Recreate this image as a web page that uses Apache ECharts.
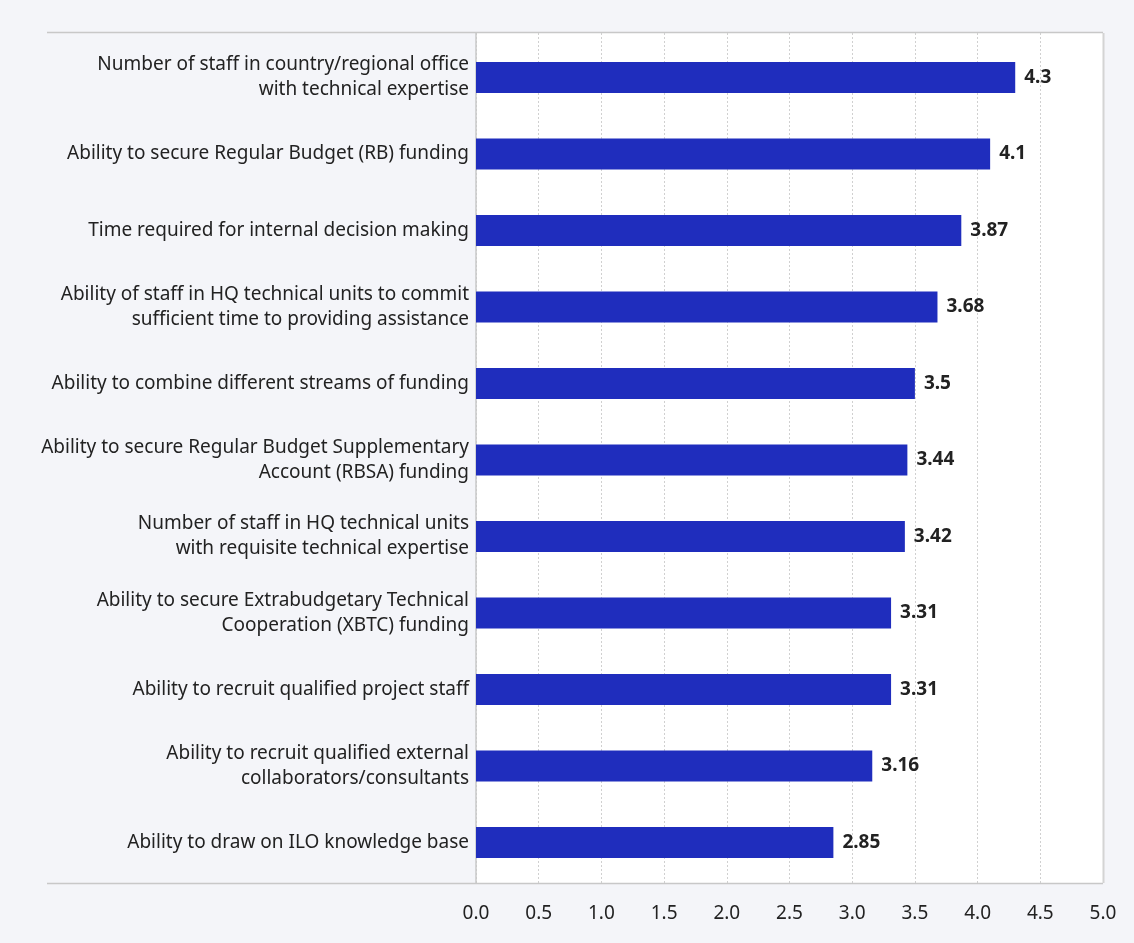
<!DOCTYPE html>
<html>
<head>
<meta charset="utf-8">
<style>
  html, body { margin: 0; padding: 0; background: #f4f5f9; }
  #chart { width: 1134px; height: 943px; }
</style>
<script src="https://cdn.jsdelivr.net/npm/echarts@6/dist/echarts.min.js"></script>
</head>
<body>
<div id="chart"></div>
<script>
// Factors rated by respondents (top to bottom)
const categories = [
  'Number of staff in country/regional office\nwith technical expertise',
  'Ability to secure Regular Budget (RB) funding',
  'Time required for internal decision making',
  'Ability of staff in HQ technical units to commit\nsufficient time to providing assistance',
  'Ability to combine different streams of funding',
  'Ability to secure Regular Budget Supplementary\nAccount (RBSA) funding',
  'Number of staff in HQ technical units\nwith requisite technical expertise',
  'Ability to secure Extrabudgetary Technical\nCooperation (XBTC) funding',
  'Ability to recruit qualified project staff',
  'Ability to recruit qualified external\ncollaborators/consultants',
  'Ability to draw on ILO knowledge base'
];
const scores = [4.3, 4.1, 3.87, 3.68, 3.5, 3.44, 3.42, 3.31, 3.31, 3.16, 2.85];
const axisMin = 0;
const axisMax = 5;
const axisStep = 0.5;

const chart = echarts.init(document.getElementById('chart'), null, { renderer: 'canvas' });
const FONT = 'Noto Sans';
const W = 1134, H = 943;
const left = 476, right = 31;
// outer panel (white background, gridlines, ticks)
const panelTop = 33, panelBottom = 60;
// inner band area where the bars sit
const barTop = 39.25, barBottom = 62.25;

chart.setOption({
  backgroundColor: '#f4f5f9',
  textStyle: { fontFamily: FONT },
  grid: [
    { left: left, right: right, top: panelTop, bottom: panelBottom,
      show: true, backgroundColor: '#ffffff', borderWidth: 0 },
    { left: left, right: right, top: barTop, bottom: barBottom, show: false }
  ],
  xAxis: [
    {
      gridIndex: 0, type: 'value',
      min: axisMin, max: axisMax, interval: axisStep,
      axisLine: { show: false },
      axisTick: { show: false },
      axisLabel: {
        color: '#222', fontSize: 19, fontFamily: FONT, margin: 21,
        formatter: v => v.toFixed(1)
      },
      splitLine: { show: true, lineStyle: { color: '#d0d0d0', type: [2, 2], width: 1 } }
    },
    {
      gridIndex: 1, type: 'value',
      min: axisMin, max: axisMax, interval: axisStep,
      show: false
    }
  ],
  yAxis: [
    {
      gridIndex: 0, type: 'value', min: 0, max: 1,
      axisLine: { show: true, lineStyle: { color: '#c8c8c8', width: 1.5 } },
      axisTick: { show: false }, axisLabel: { show: false }, splitLine: { show: false }
    },
    {
      gridIndex: 1, type: 'category',
      data: categories,
      inverse: true,
      axisLine: { show: false },
      axisTick: { show: false },
      axisLabel: {
        color: '#222', fontSize: 19, fontFamily: FONT, margin: 7,
        align: 'right', lineHeight: 25
      },
      splitLine: { show: false }
    }
  ],
  series: [{
    type: 'bar',
    xAxisIndex: 1, yAxisIndex: 1,
    data: scores,
    barWidth: 31,
    itemStyle: { color: '#1f2dbd' },
    label: {
      show: true, position: 'right', distance: 9,
      color: '#222', fontSize: 19, fontWeight: 'bold', fontFamily: FONT,
      formatter: p => String(p.value)
    },
    silent: true
  }],
  graphic: [
    { type: 'line', shape: { x1: 47, y1: panelTop - 0.5, x2: W - right, y2: panelTop - 0.5 },
      style: { stroke: '#c8c8c8', lineWidth: 1.5 }, z: 10 },
    { type: 'line', shape: { x1: 47, y1: H - panelBottom + 0.5, x2: W - right, y2: H - panelBottom + 0.5 },
      style: { stroke: '#c8c8c8', lineWidth: 1.5 }, z: 10 },
    { type: 'line', shape: { x1: W - right + 0.5, y1: panelTop, x2: W - right + 0.5, y2: H - panelBottom },
      style: { stroke: '#d4d4d4', lineWidth: 2 }, z: 10 }
  ]
});
</script>
</body>
</html>
